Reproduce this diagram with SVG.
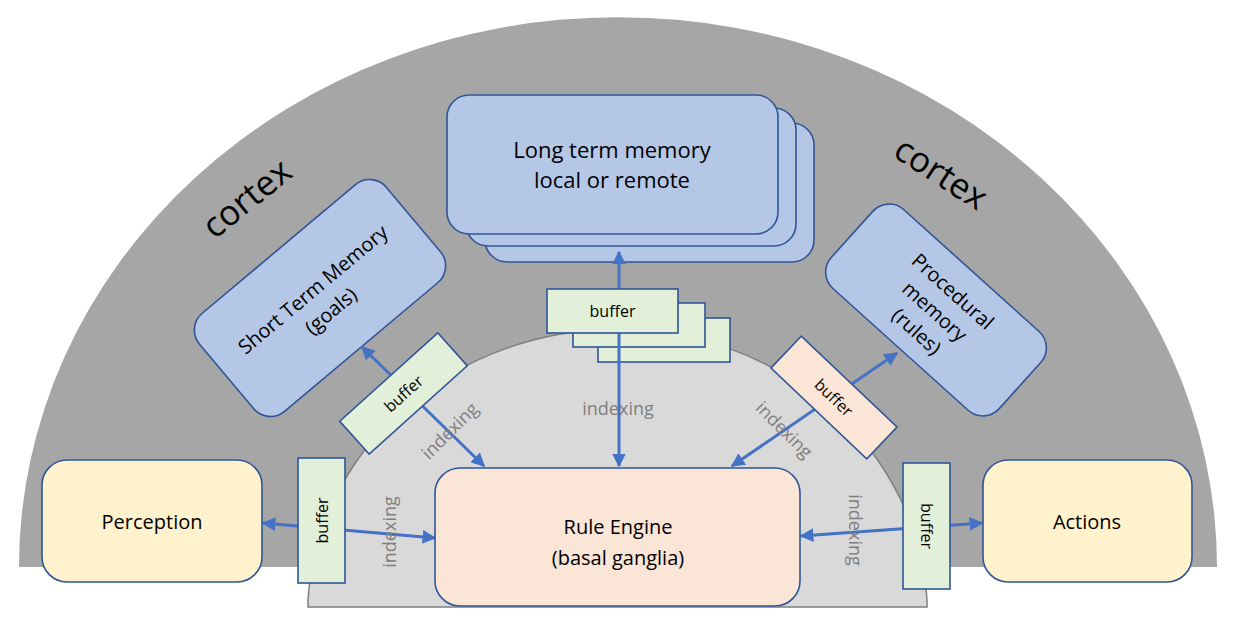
<svg xmlns="http://www.w3.org/2000/svg" width="1234" height="623" viewBox="0 0 1234 623">
<defs>
<style>
text{font-family:"Open Sans","Noto Sans","Liberation Sans",sans-serif;fill:#000}
.box{stroke:#2f5597;stroke-width:1.6}
.blue{fill:#b4c7e7}
.yel{fill:#fff2cc}
.pink{fill:#fbe5d6}
.grn{fill:#e2f0d9}
.lbl{font-size:20px;text-anchor:middle}
.big{font-size:22px;text-anchor:middle}
.buf{font-size:16px;text-anchor:middle}
.idx{font-size:18px;text-anchor:middle;fill:#7f7f7f}
.ctx{font-size:35px;text-anchor:middle}
.conn{stroke:#4472c4;stroke-width:3;fill:none;marker-start:url(#ah);marker-end:url(#ah)}
</style>
<marker id="ah" viewBox="0 0 10 10" refX="9" refY="5" markerWidth="4.6" markerHeight="4.6" orient="auto-start-reverse">
<path d="M0,0 L10,5 L0,10 z" fill="#4472c4"/>
</marker>
</defs>

<g id="background">
<path d="M19 567 A599 550 0 0 1 1217 567 Z" fill="#a6a6a6"/>
<path d="M308 607 L308 600 A310 287 0 0 1 927 600 L927 607 Z" fill="#d9d9d9" stroke="#808080" stroke-width="1.5"/>
<text class="ctx" transform="translate(248,200) rotate(-39)" y="10">cortex</text>
<text class="ctx" transform="translate(940,175) rotate(33)" y="10">cortex</text>
</g>

<g id="long-term-memory">
<rect class="box blue" x="485" y="123" width="329" height="139" rx="22"/>
<rect class="box blue" x="466" y="108" width="330" height="138" rx="22"/>
<rect class="box blue" x="447" y="95" width="331" height="139" rx="22"/>
<text class="big" x="612" y="158">Long term memory</text>
<text class="big" x="612" y="188">local or remote</text>
</g>

<g id="short-term-memory" transform="translate(320,298) rotate(-40)">
<rect class="box blue" x="-122" y="-64" width="244" height="128" rx="22"/>
<text class="lbl" x="0" y="-4">Short Term Memory</text>
<text class="lbl" x="0" y="24">(goals)</text>
</g>

<g id="procedural-memory" transform="translate(936,310) rotate(42)">
<rect class="box blue" x="-113" y="-53" width="226" height="106" rx="22"/>
<text class="lbl" x="0" y="-18">Procedural</text>
<text class="lbl" x="0" y="9">memory</text>
<text class="lbl" x="0" y="36">(rules)</text>
</g>

<g id="ltm-buffer-back">
<rect class="box grn" x="598" y="318" width="132" height="44"/>
<rect class="box grn" x="573" y="303" width="132" height="44"/>
</g>

<g id="connectors">
<line class="conn" x1="619" y1="466" x2="619" y2="252"/>
<line class="conn" x1="484" y1="466" x2="362" y2="347"/>
<line class="conn" x1="732" y1="466" x2="897" y2="353"/>
<line class="conn" x1="435" y1="538" x2="263" y2="523"/>
<line class="conn" x1="801" y1="536" x2="982" y2="523"/>
</g>

<g id="ltm-buffer">
<rect class="box grn" x="547" y="289" width="131" height="44"/>
<text class="buf" x="612.5" y="317">buffer</text>
</g>

<g id="stm-buffer" transform="translate(403.5,393.5) rotate(-42)">
<rect class="box grn" x="-66" y="-22" width="132" height="44"/>
<text class="buf" x="0" y="6">buffer</text>
</g>

<g id="procedural-buffer" transform="translate(834,397.5) rotate(43.5)">
<rect class="box pink" x="-66" y="-22" width="132" height="44"/>
<text class="buf" x="0" y="6">buffer</text>
</g>

<g id="perception-buffer">
<rect class="box grn" x="298" y="458" width="47" height="125"/>
<text class="buf" transform="translate(321.5,520.5) rotate(-90)" y="6">buffer</text>
</g>

<g id="actions-buffer">
<rect class="box grn" x="903" y="463" width="47" height="126"/>
<text class="buf" transform="translate(926.5,526) rotate(90)" y="6">buffer</text>
</g>

<g id="perception">
<rect class="box yel" x="42" y="460" width="220" height="122" rx="25"/>
<text class="lbl" x="152" y="529">Perception</text>
</g>

<g id="actions">
<rect class="box yel" x="983" y="460" width="209" height="122" rx="25"/>
<text class="lbl" x="1087" y="529">Actions</text>
</g>

<g id="rule-engine">
<rect class="box pink" x="435" y="468" width="365" height="138" rx="25"/>
<text class="lbl" x="618" y="534">Rule Engine</text>
<text class="lbl" x="618" y="565">(basal ganglia)</text>
</g>

<g id="edge-labels">
<text class="idx" x="618" y="415">indexing</text>
<text class="idx" transform="translate(450,431) rotate(-45)" y="6">indexing</text>
<text class="idx" transform="translate(784,430) rotate(45)" y="6">indexing</text>
<text class="idx" transform="translate(390,532) rotate(-90)" y="6">indexing</text>
<text class="idx" transform="translate(855,530) rotate(90)" y="6">indexing</text>
</g>
</svg>
